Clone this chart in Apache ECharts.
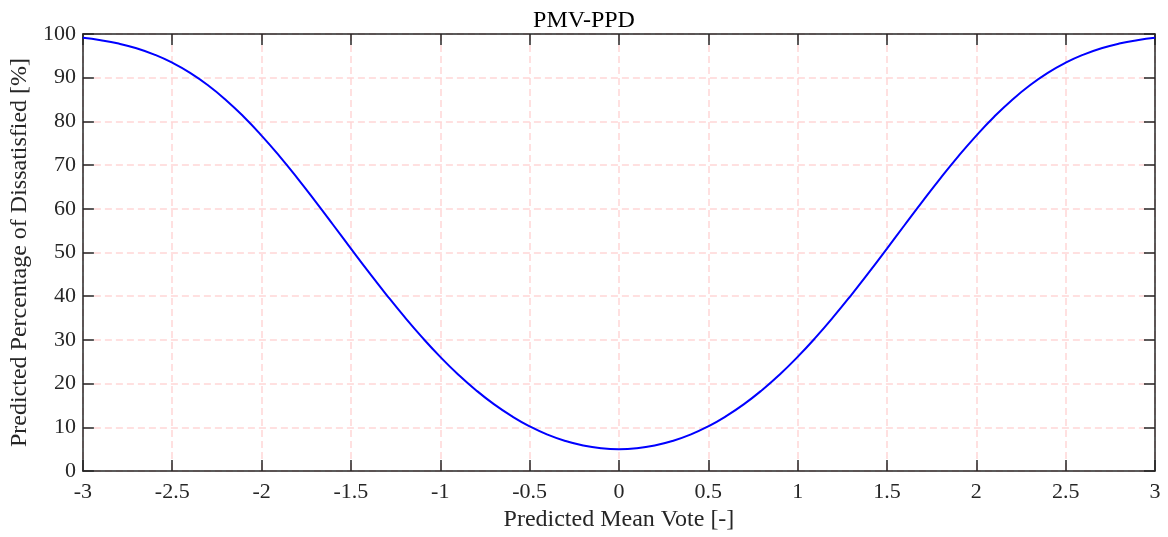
<!DOCTYPE html>
<html><head><meta charset="utf-8">
<script src="https://cdn.jsdelivr.net/npm/echarts@6/dist/echarts.min.js"></script>
<style>html,body{margin:0;padding:0;background:#fff}#c{width:1168px;height:537px}</style>
</head><body><div id="c"></div>
<script>
var pmv = [-3.0,-2.9,-2.8,-2.7,-2.6,-2.5,-2.4,-2.3,-2.2,-2.1,-2.0,-1.9,-1.8,-1.7,-1.6,-1.5,-1.4,-1.3,-1.2,-1.1,-1.0,-0.9,-0.8,-0.7,-0.6,-0.5,-0.4,-0.3,-0.2,-0.1,0.0,0.1,0.2,0.3,0.4,0.5,0.6,0.7,0.8,0.9,1.0,1.1,1.2,1.3,1.4,1.5,1.6,1.7,1.8,1.9,2.0,2.1,2.2,2.3,2.4,2.5,2.6,2.7,2.8,2.9,3.0];
var ppd = [99.12,98.58,97.81,96.73,95.29,93.43,91.10,88.26,84.91,81.07,76.76,72.05,67.02,61.75,56.35,50.90,45.51,40.27,35.25,30.51,26.12,22.10,18.49,15.30,12.55,10.22,8.33,6.87,5.83,5.21,5.00,5.21,5.83,6.87,8.33,10.22,12.55,15.30,18.49,22.10,26.12,30.51,35.25,40.27,45.51,50.90,56.35,61.75,67.02,72.05,76.76,81.07,84.91,88.26,91.10,93.43,95.29,96.73,97.81,98.58,99.12];
var title = 'PMV-PPD';
var xName = 'Predicted Mean Vote [-]';
var yName = 'Predicted Percentage of Dissatisfied [%]';

var FONT = '"Liberation Serif", "DejaVu Serif", serif';
var AX = '#262626';
var chart = echarts.init(document.getElementById('c'), null, {renderer: 'canvas'});
var data = pmv.map(function (v, i) { return [v, ppd[i]]; });
var gridLine = {show: true, lineStyle: {color: '#ffd6d6', width: 1.5, type: [7, 4]}};
chart.setOption({
  animation: false,
  title: {text: title, left: 'center', top: 4, textStyle: {fontFamily: FONT, fontSize: 24, fontWeight: 'normal', color: '#000'}},
  grid: {left: 79, right: 13, top: 34, bottom: 62, containLabel: false},
  xAxis: [{
    type: 'value', min: -3, max: 3, interval: 0.5,
    name: xName, nameLocation: 'middle', nameGap: 37,
    nameTextStyle: {fontFamily: FONT, fontSize: 24, color: AX},
    axisLine: {show: true, onZero: false, lineStyle: {color: AX, width: 1.5}},
    axisTick: {show: true, inside: true, length: 11, lineStyle: {color: AX, width: 1.5}},
    axisLabel: {fontFamily: FONT, fontSize: 22, color: AX, margin: 10},
    splitLine: gridLine
  }, {
    type: 'value', min: -3, max: 3, interval: 0.5, position: 'top',
    axisLine: {show: true, onZero: false, lineStyle: {color: AX, width: 1.5}},
    axisTick: {show: true, inside: true, length: 11, lineStyle: {color: AX, width: 1.5}},
    axisLabel: {show: false}, splitLine: {show: false}
  }],
  yAxis: [{
    type: 'value', min: 0, max: 100, interval: 10,
    name: yName, nameLocation: 'middle', nameGap: 46,
    nameTextStyle: {fontFamily: FONT, fontSize: 24, color: AX},
    axisLine: {show: true, onZero: false, lineStyle: {color: AX, width: 1.5}},
    axisTick: {show: true, inside: true, length: 11, lineStyle: {color: AX, width: 1.5}},
    axisLabel: {fontFamily: FONT, fontSize: 22, color: AX, margin: 7},
    splitLine: gridLine
  }, {
    type: 'value', min: 0, max: 100, interval: 10, position: 'right',
    axisLine: {show: true, onZero: false, lineStyle: {color: AX, width: 1.5}},
    axisTick: {show: true, inside: true, length: 11, lineStyle: {color: AX, width: 1.5}},
    axisLabel: {show: false}, splitLine: {show: false}
  }],
  series: [{
    type: 'line', data: data, smooth: true, showSymbol: false,
    lineStyle: {color: '#0000ff', width: 2}, xAxisIndex: 0, yAxisIndex: 0
  }]
});
</script></body></html>
